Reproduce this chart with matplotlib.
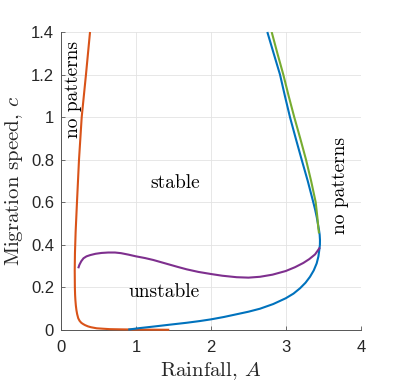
import matplotlib
matplotlib.use("Agg")
import matplotlib.pyplot as plt
from matplotlib.ticker import FuncFormatter

plt.rcParams['mathtext.fontset'] = 'cm'

# Data
orange_A = [0.387, 0.333, 0.276, 0.240, 0.213, 0.195, 0.186, 0.183, 0.185, 0.188, 0.192, 0.198, 0.205,
            0.215, 0.230, 0.248, 0.270, 0.295, 0.320, 0.360, 0.400, 0.476, 0.560, 0.650, 0.800, 1.000, 1.200, 1.444]
orange_c = [1.400, 1.200, 1.000, 0.800, 0.600, 0.460, 0.360, 0.280, 0.200, 0.165, 0.140, 0.115, 0.095,
            0.075, 0.055, 0.043, 0.034, 0.028, 0.023, 0.017, 0.013, 0.008, 0.006, 0.004, 0.003, 0.002, 0.0015, 0.001]

blue_A = [0.897, 1.05, 1.23, 1.45, 1.676, 1.85, 2.00, 2.17, 2.342, 2.50, 2.653, 2.83, 2.996, 3.10, 3.187,
          3.26, 3.32, 3.37, 3.409, 3.432, 3.444, 3.452, 3.453, 3.449, 3.44, 3.425, 3.41, 3.39, 3.364,
          3.29, 3.209, 3.13, 3.053, 2.985, 2.92, 2.835, 2.751]
blue_c = [0.002, 0.009, 0.016, 0.025, 0.034, 0.042, 0.050, 0.061, 0.074, 0.086, 0.100, 0.122, 0.149, 0.171, 0.196,
          0.222, 0.250, 0.280, 0.313, 0.345, 0.376, 0.400, 0.423, 0.447, 0.470, 0.500, 0.530, 0.563, 0.600,
          0.700, 0.800, 0.900, 1.000, 1.100, 1.200, 1.300, 1.400]

green_A = [3.440, 3.436, 3.431, 3.418, 3.396, 3.335, 3.267, 3.190, 3.110, 3.035, 2.964, 2.885, 2.809]
green_c = [0.454, 0.466, 0.478, 0.530, 0.600, 0.700, 0.800, 0.900, 1.000, 1.100, 1.200, 1.300, 1.400]

purple_A = [0.23, 0.245, 0.27, 0.30, 0.34, 0.39, 0.46, 0.54, 0.63, 0.72, 0.80, 0.90, 1.00, 1.12, 1.23, 1.34,
            1.45, 1.56, 1.676, 1.83, 2.00, 2.15, 2.342, 2.50, 2.653, 2.82, 2.996, 3.12, 3.231, 3.31, 3.387, 3.453]
purple_c = [0.290, 0.306, 0.323, 0.337, 0.346, 0.352, 0.358, 0.362, 0.364, 0.364, 0.361, 0.354, 0.346, 0.338, 0.329, 0.318,
            0.307, 0.296, 0.285, 0.273, 0.263, 0.255, 0.248, 0.246, 0.250, 0.260, 0.277, 0.295, 0.315, 0.333, 0.355, 0.388]

xticks = [0, 1, 2, 3, 4]
yticks = [0, 0.2, 0.4, 0.6, 0.8, 1.0, 1.2, 1.4]

fig = plt.figure(figsize=(3.99, 3.86), dpi=100)
ax = fig.add_axes([61/399, 56/386, 300/399, 298/386])

lw = 1.5
common = dict(lw=lw, solid_joinstyle='round', solid_capstyle='butt')
ax.plot(orange_A, orange_c, color='#D95319', clip_on=False, zorder=3, **common)
ax.plot(blue_A, blue_c, color='#0072BD', clip_on=False, zorder=3, **common)
ax.plot(green_A, green_c, color='#77AC30', zorder=3, **common)
ax.plot(purple_A, purple_c, color='#7E2F8E', zorder=4, **common)

ax.set_xlim(0, 4)
ax.set_ylim(0, 1.4)
ax.set_xticks(xticks)
ax.set_yticks(yticks)
ax.yaxis.set_major_formatter(FuncFormatter(lambda v, p: '%g' % v))
ax.xaxis.set_major_formatter(FuncFormatter(lambda v, p: '%g' % v))

for s in ['top', 'right']:
    ax.spines[s].set_visible(False)
for s in ['left', 'bottom']:
    ax.spines[s].set_color('#555555')
    ax.spines[s].set_linewidth(0.7)

ax.grid(True, color='#E3E3E3', lw=0.6)
ax.set_axisbelow(True)
ax.tick_params(direction='in', length=3, width=0.6, color='#555555',
               labelsize=12, labelcolor='#262626')
ax.tick_params(axis='x', pad=7)
ax.tick_params(axis='y', pad=5)
for lab in ax.get_xticklabels() + ax.get_yticklabels():
    lab.set_fontfamily('Liberation Sans')

ax.set_xlabel('Rainfall, $A$', fontfamily='cmr10', fontsize=15, color='#262626', labelpad=4)
ax.set_ylabel('Migration speed, $c$', fontfamily='cmr10', fontsize=15, color='#262626', labelpad=4)

tkw = dict(fontfamily='cmr10', fontsize=14, color='black', ha='center', va='center')
ax.text(0.16, 1.13, 'no patterns', rotation=90, **tkw)
ax.text(3.72, 0.68, 'no patterns', rotation=90, **tkw)
ax.text(1.52, 0.69, 'stable', **tkw)
ax.text(1.37, 0.178, 'unstable', **tkw)

fig.savefig('out.png', dpi=100)
